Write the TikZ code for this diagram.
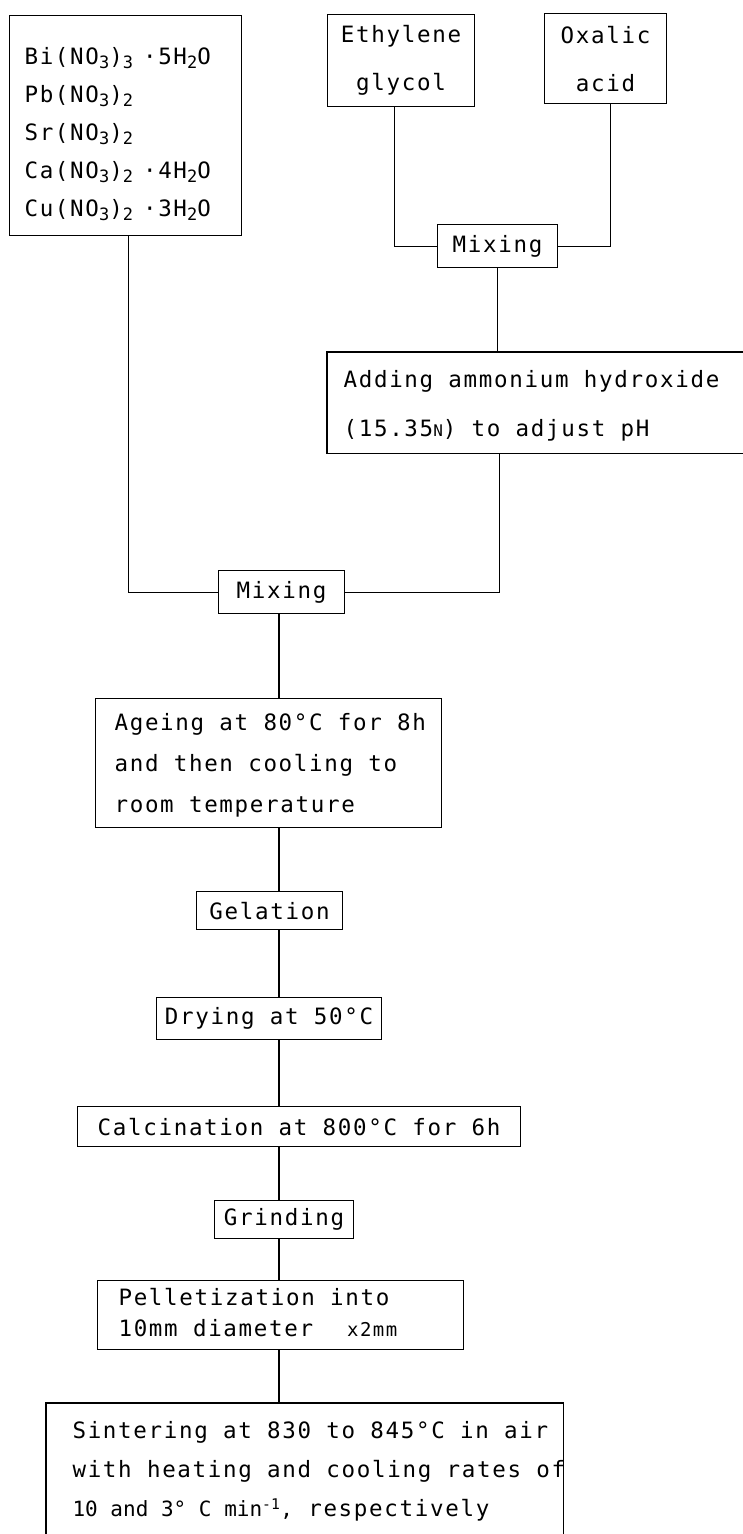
\documentclass[tikz,border=0pt]{standalone}
\usepackage{fontspec}
\setmainfont{DejaVu Sans Mono}[LetterSpace=7.5]
\newcommand{\chsub}[1]{\raisebox{-4pt}{\fontsize{17}{17}\selectfont #1}}
\newcommand{\smallN}{{\fontsize{16}{16}\selectfont N}}
\newcommand{\leftlines}[3]{\makebox[#1][l]{\begin{tabular}{@{\hspace{#2}}l@{}}#3\end{tabular}}}
\begin{document}
\begin{tikzpicture}[x=1pt,y=-1pt,line width=1.1pt,
  base/.style={inner sep=0pt,anchor=north west,font=\fontsize{22.5}{38}\selectfont},
  box/.style={base,draw},
  cbox/.style={box,align=center}]
\useasboundingbox (0,0) rectangle (742,1534);
\fill[white] (0,0) rectangle (742,1534);

% raw materials
\node[box,minimum height=220pt] (chem) at (9,15)
  {\raisebox{-7pt}[\height][\depth]{\leftlines{232pt}{15pt}{Bi(NO\chsub{3})\chsub{3}\kern10pt·5H\chsub{2}O\\
   Pb(NO\chsub{3})\chsub{2}\\
   Sr(NO\chsub{3})\chsub{2}\\
   Ca(NO\chsub{3})\chsub{2}\kern10pt·4H\chsub{2}O\\
   Cu(NO\chsub{3})\chsub{2}\kern10pt·3H\chsub{2}O}}};
\node[cbox,font=\fontsize{22.5}{48}\selectfont,minimum width=147pt,minimum height=92pt] (eg) at (327,14) {Ethylene\\glycol};
\node[cbox,font=\fontsize{22.5}{48}\selectfont,minimum width=122pt,minimum height=90pt] (ox) at (544,13) {Oxalic\\acid};

\node[cbox,minimum width=120pt,minimum height=43pt] (mix1) at (437,224) {Mixing};

\node[base,font=\fontsize{22.5}{49}\selectfont,minimum height=100pt] (add) at (327,352)
  {\leftlines{415pt}{16pt}{Adding ammonium hydroxide\\(15.35\smallN) to adjust pH}};
\draw (add.north east) -- (add.north west) -- (add.south west) -- (add.south east);

\node[cbox,minimum width=126pt,minimum height=43pt] (mix2) at (218,570) {Mixing};

\node[box,font=\fontsize{22.5}{41}\selectfont,minimum height=129pt] (age) at (95,698)
  {\leftlines{346pt}{19pt}{Ageing at 80°C for 8h\\and then cooling to\\room temperature}};

\node[cbox,minimum width=146pt,minimum height=38pt] (gel) at (196,891) {Gelation};
\node[cbox,minimum width=225pt,minimum height=42pt] (dry) at (156,997) {Drying at 50°C};
\node[cbox,minimum width=443pt,minimum height=40pt] (calc) at (77,1106) {Calcination at 800°C for 6h};
\node[cbox,minimum width=139pt,minimum height=38pt] (grind) at (214,1200) {Grinding};

\node[box,font=\fontsize{22.5}{31}\selectfont,minimum height=69pt] (pell) at (97,1280)
  {\leftlines{366pt}{21pt}{Pelletization into\\10mm diameter\hspace{34pt}{\fontsize{19}{19}\selectfont x2mm}}};

\node[base,font=\fontsize{22.5}{39}\selectfont,minimum height=133pt] (sint) at (46,1403)
  {\leftlines{516pt}{26pt}{Sintering at 830 to 845°C in air\\with heating and cooling rates of\\{\fontsize{21}{39}\selectfont\addfontfeature{LetterSpace=0}10 and 3° C min\textsuperscript{-1},} respectively}};
\draw (sint.south west) -- (sint.north west) -- (sint.north east) -- (sint.south east);

% connectors
\coordinate (sp) at (279,0);
\draw ([xshift=3pt]chem.south) |- (mix2.west);
\draw ([xshift=-7pt]eg.south) |- (mix1.west);
\draw ([xshift=5pt]ox.south) |- (mix1.east);
\draw (mix1.south) -- (add.north -| mix1.south);
\draw ([xshift=2pt]add.south -| mix1.south) |- (mix2.east);
\draw (mix2.south -| sp) -- (age.north -| sp);
\draw (age.south -| sp) -- (gel.north -| sp);
\draw (gel.south -| sp) -- (dry.north -| sp);
\draw (dry.south -| sp) -- (calc.north -| sp);
\draw (calc.south -| sp) -- (grind.north -| sp);
\draw (grind.south -| sp) -- (pell.north -| sp);
\draw (pell.south -| sp) -- (sint.north -| sp);
\end{tikzpicture}
\end{document}
